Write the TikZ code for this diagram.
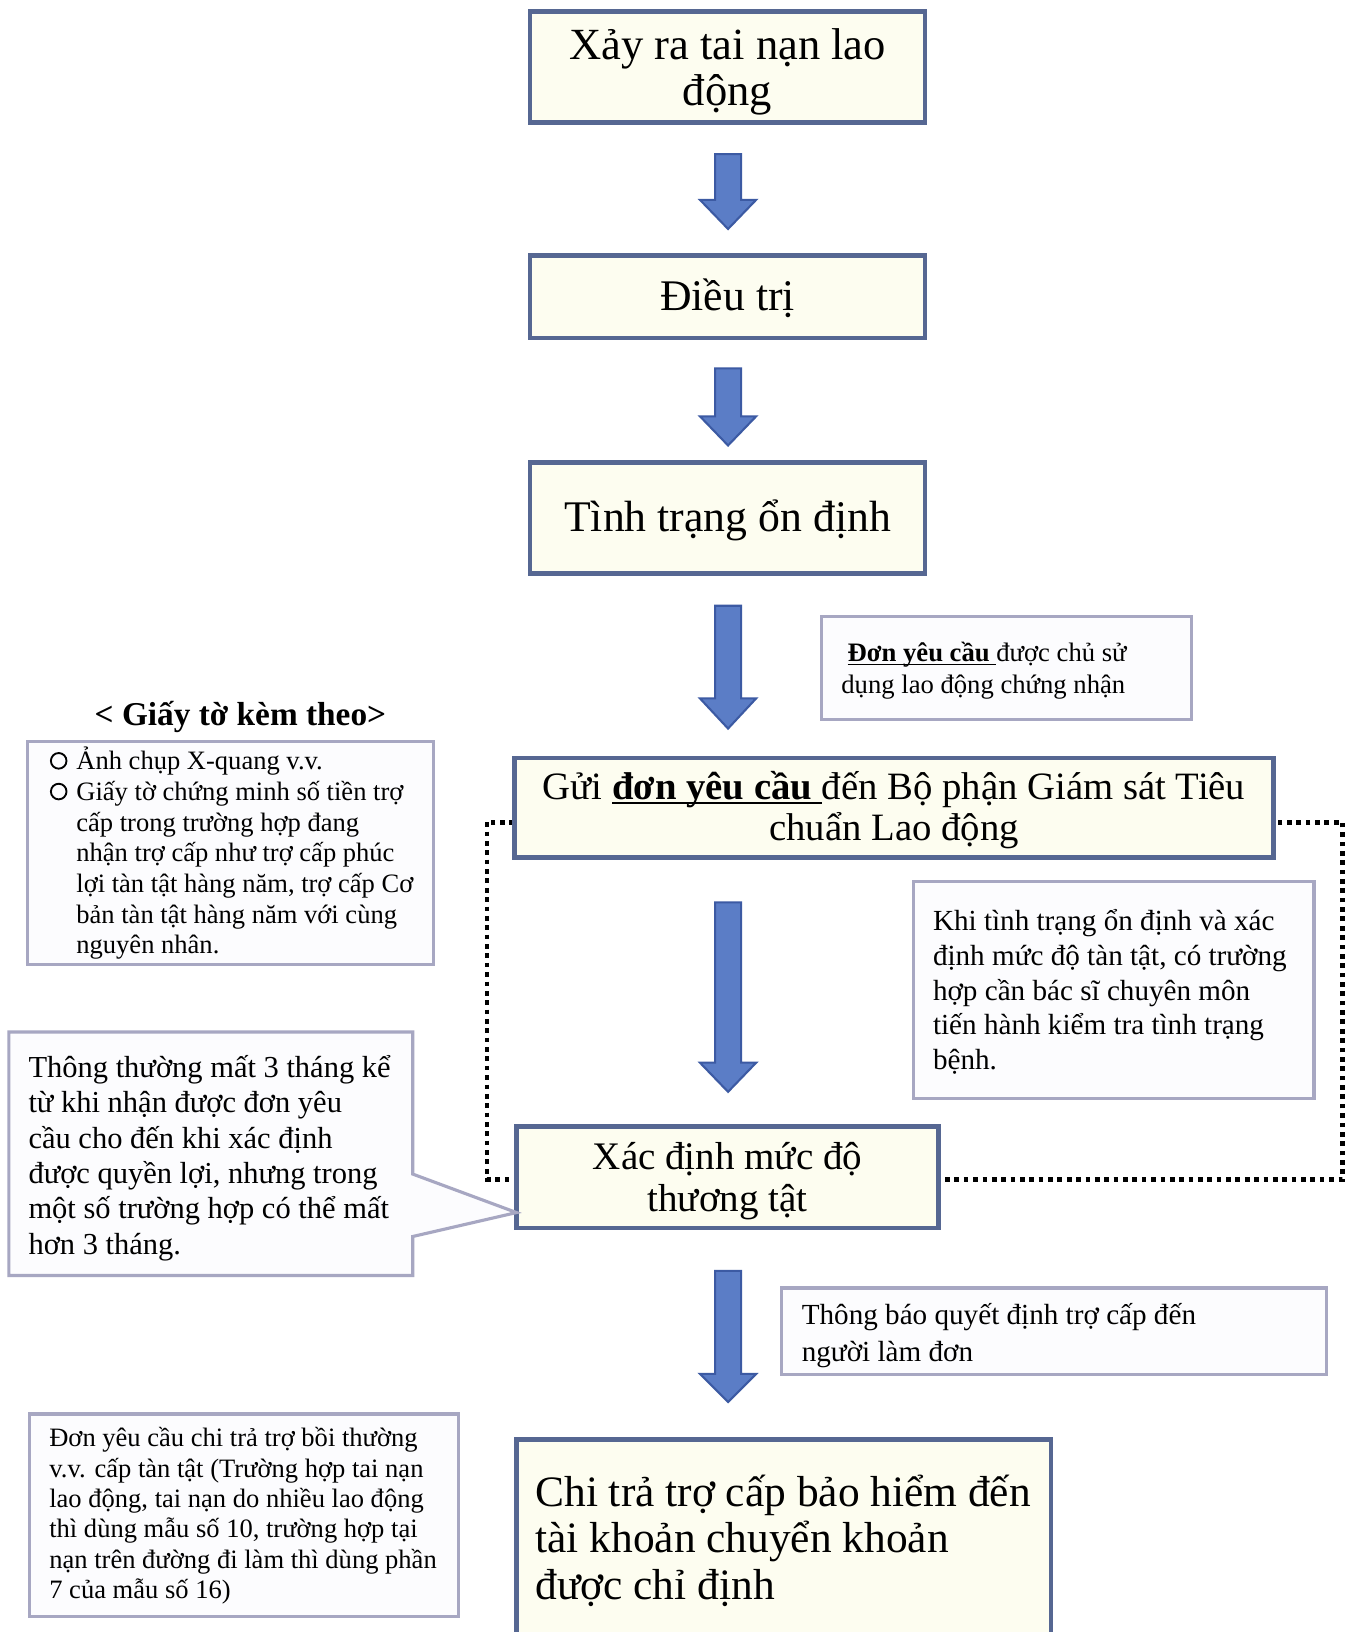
\documentclass[tikz,border=0pt]{standalone}
\usepackage{fontspec}
\setmainfont{Liberation Serif}
\definecolor{darkline}{HTML}{566792}
\definecolor{creamfill}{HTML}{FDFDF0}
\definecolor{lightline}{HTML}{A7A7C2}
\definecolor{lightfill}{HTML}{FCFCFE}
\definecolor{arrowfill}{HTML}{5B7DC6}
\definecolor{arrowline}{HTML}{3C5AA3}
\newcommand\myul[1]{\setbox0=\hbox{#1}\rlap{\rule[-0.13em]{\wd0}{0.065em}}\box0}
\newcommand\lnsL[1]{\vtop{\lineskiplimit=-1000pt\lineskip=0pt\halign{##\hfil\cr#1\crcr}}}
\newcommand\lnsC[1]{\vtop{\lineskiplimit=-1000pt\lineskip=0pt\halign{\hfil##\hfil\cr#1\crcr}}}
\newcommand\bul{\makebox[13pt][l]{\tikz[baseline=-4.25pt]{\path (0pt,0pt); \draw[line width=0.9pt] (4.5pt,0pt) circle (3.75pt);}}}
\newcommand\ind{\hspace*{13pt}}
\newcommand\blockarr[3]{\draw[blockarrow] (687,#1) -- (712,#1) -- (712,#2) -- (726.5,#2) -- (699.5,#3) -- (672.5,#2) -- (687,#2) -- cycle;}
\begin{document}
\begin{tikzpicture}[x=0.5pt,y=-0.5pt,
  darkbox/.style={draw=darkline, line width=2.25pt, fill=creamfill, inner sep=0pt, outer sep=0pt},
  lightbox/.style={draw=lightline, line width=1.5pt, fill=lightfill, inner sep=0pt, outer sep=0pt},
  ltxt/.style={inner sep=0pt, anchor=base west, text=black},
  ctxt/.style={inner sep=0pt, anchor=base, text=black},
  blockarrow/.style={draw=arrowline, line width=1pt, fill=arrowfill, line join=miter},
  dotbox/.style={draw=black, line width=2.25pt, dash pattern=on 2.25pt off 2.25pt}]
\clip (0,0) rectangle (1296,1568);
\fill[white] (0,0) rectangle (1296,1568);

% dotted frame
\draw[dotbox] (468,790) rectangle (1290,1133);

% main boxes
\node[darkbox, minimum width=189.75pt, minimum height=53.25pt] (b1) at (699,64.5) {};
\node[darkbox, minimum width=189.75pt, minimum height=39.75pt] (b2) at (699,285) {};
\node[darkbox, minimum width=189.75pt, minimum height=53.25pt] (b3) at (699,497.5) {};
\node[darkbox, minimum width=364.75pt, minimum height=47.75pt] (b4) at (859,776) {};
\node[darkbox, minimum width=202.75pt, minimum height=48.75pt] (b5) at (699,1131) {};
\node[darkbox, minimum width=256.75pt, minimum height=107.25pt] (b6) at (753,1490.5) {};

% note boxes
\node[lightbox, minimum width=177.5pt, minimum height=49.5pt] (n1) at (967,642) {};
\node[lightbox, minimum width=195pt, minimum height=107pt] (n2) at (221.5,819.5) {};
\node[lightbox, minimum width=192.5pt, minimum height=104.5pt] (n3) at (1070,951) {};
\node[lightbox, minimum width=262pt, minimum height=41.5pt] (n4) at (1012.5,1279) {};
\node[lightbox, minimum width=206pt, minimum height=97.5pt] (n5) at (234.5,1456) {};
\draw[draw=lightline, line width=1.5pt, fill=lightfill, line join=miter]
  (8.5,991.5) -- (396.5,991.5) -- (396.5,1128) -- (b5.west |- 0,1165) -- (396.5,1188)
  -- (396.5,1225.5) -- (8.5,1225.5) -- cycle;

% block arrows
\blockarr{148}{192}{220}
\blockarr{354}{400}{428}
\blockarr{582}{671}{700}
\blockarr{867}{1021}{1049}
\blockarr{1221}{1320}{1347}

% texts
\node[ctxt, font=\fontsize{21.4pt}{22pt}\selectfont] (t1) at (699,57) {\lnsC{Xảy ra tai nạn lao\cr động}};
\node[ctxt, font=\fontsize{21pt}{22pt}\selectfont] (t2) at (699,298) {Điều trị};
\node[ctxt, font=\fontsize{21pt}{22pt}\selectfont] (t3) at (699,511) {Tình trạng ổn định};
\node[ltxt, font=\fontsize{12.8pt}{15pt}\selectfont] (tn1) at (808,636)
  {\lnsL{\hspace*{3pt}\myul{\textbf{Đơn yêu cầu }}được chủ sử\cr dụng lao động chứng nhận}};
\node[ctxt, font=\fontsize{16pt}{18pt}\selectfont\bfseries] (th) at (231,697) {< Giấy tờ kèm theo>};
\node[ltxt, font=\fontsize{12.75pt}{14.75pt}\selectfont] (tn2) at (47,739.5)
  {\lnsL{\bul Ảnh chụp X-quang v.v.\cr
         \bul Giấy tờ chứng minh số tiền trợ\cr
         \ind cấp trong trường hợp đang\cr
         \ind nhận trợ cấp như trợ cấp phúc\cr
         \ind lợi tàn tật hàng năm, trợ cấp Cơ\cr
         \ind bản tàn tật hàng năm với cùng\cr
         \ind nguyên nhân.}};
\node[ctxt, font=\fontsize{18.6pt}{20pt}\selectfont] (t4) at (859,768)
  {\lnsC{Gửi \myul{\textbf{đơn yêu cầu }}đến Bộ phận Giám sát Tiêu\cr chuẩn Lao động}};
\node[ltxt, font=\fontsize{14pt}{16.7pt}\selectfont] (tn3) at (896,894)
  {\lnsL{Khi tình trạng ổn định và xác\cr
         định mức độ tàn tật, có trường\cr
         hợp cần bác sĩ chuyên môn\cr
         tiến hành kiểm tra tình trạng\cr
         bệnh.}};
\node[ltxt, font=\fontsize{14.65pt}{17pt}\selectfont] (tc) at (27,1035)
  {\lnsL{Thông thường mất 3 tháng kể\cr
         từ khi nhận được đơn yêu\cr
         cầu cho đến khi xác định\cr
         được quyền lợi, nhưng trong\cr
         một số trường hợp có thể mất\cr
         hơn 3 tháng.}};
\node[ctxt, font=\fontsize{18.75pt}{20pt}\selectfont] (t5) at (699,1124)
  {\lnsC{Xác định mức độ\cr thương tật}};
\node[ltxt, font=\fontsize{14pt}{17.5pt}\selectfont] (tn4) at (770,1273)
  {\lnsL{Thông báo quyết định trợ cấp đến\cr người làm đơn}};
\node[ltxt, font=\fontsize{12.75pt}{14.6pt}\selectfont] (tn5) at (47,1390)
  {\lnsL{Đơn yêu cầu chi trả trợ bồi thường\cr
         v.v. cấp tàn tật (Trường hợp tai nạn\cr
         lao động, tai nạn do nhiều lao động\cr
         thì dùng mẫu số 10, trường hợp tại\cr
         nạn trên đường đi làm thì dùng phần\cr
         7 của mẫu số 16)}};
\node[ltxt, font=\fontsize{20.85pt}{22.5pt}\selectfont] (t6) at (514,1447)
  {\lnsL{Chi trả trợ cấp bảo hiểm đến\cr tài khoản chuyển khoản\cr được chỉ định}};
\end{tikzpicture}
\end{document}
